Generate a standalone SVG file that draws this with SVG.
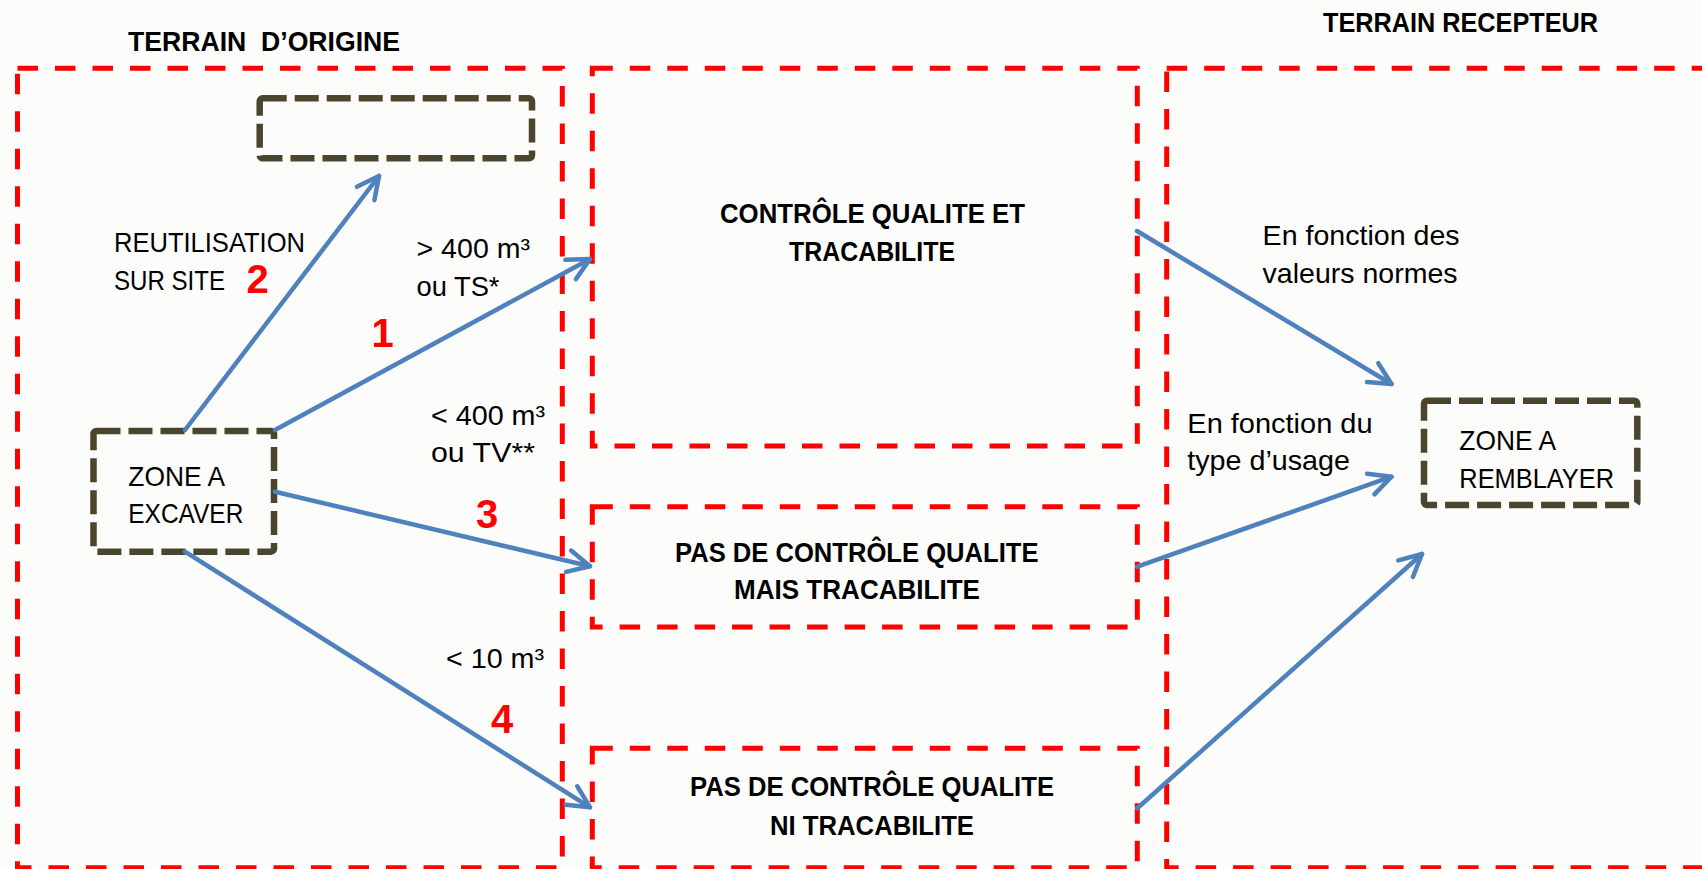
<svg xmlns="http://www.w3.org/2000/svg" width="1702" height="869" viewBox="0 0 1702 869">
<style>
.region{fill:none;stroke:#FF0000;stroke-width:5;stroke-dasharray:20.5 17}
.zone{fill:none;stroke:#4A452C;stroke-width:6.5;stroke-dasharray:24 8}
.arrow{fill:none;stroke:#4F81BD;stroke-width:4.5;stroke-linecap:round;marker-end:url(#ah)}
.t{font-family:"Liberation Sans",Arial,sans-serif;font-size:28px;fill:#000}
.b{font-weight:bold;font-size:27.5px}
.h{font-family:"Liberation Sans",Arial,sans-serif;font-weight:bold;font-size:28px;fill:#000}
.n{font-family:"Liberation Sans",Arial,sans-serif;font-weight:bold;font-size:40px;fill:#FF0000;text-anchor:middle}
</style>
<defs>
<marker id="ah" markerUnits="userSpaceOnUse" viewBox="-30 -16 36 32" refX="0" refY="0" markerWidth="36" markerHeight="32" orient="auto" overflow="visible">
<path d="M-22,-11 L0,0 L-22,11" fill="none" stroke="#4F81BD" stroke-width="4.5" stroke-linecap="round" stroke-linejoin="round"/>
</marker>
</defs>
<rect x="0" y="0" width="1702" height="869" fill="#FCFCFB"/>

<g id="titles">
<text class="h" x="128" y="50.5" textLength="272" lengthAdjust="spacingAndGlyphs" xml:space="preserve">TERRAIN  D’ORIGINE</text>
<text class="h" x="1323" y="31.5" textLength="275" lengthAdjust="spacingAndGlyphs">TERRAIN RECEPTEUR</text>
</g>

<g id="region-origine"><rect class="region" x="17.5" y="68.3" width="544.8" height="799.4"/></g>
<g id="region-recepteur"><rect class="region" x="1166.7" y="68.3" width="600" height="799.4"/></g>

<g id="box-controle">
<rect class="region" x="592.3" y="68.3" width="545" height="377.7"/>
<text class="t b" x="720" y="222.7" textLength="305" lengthAdjust="spacingAndGlyphs">CONTRÔLE QUALITE ET</text>
<text class="t b" x="789" y="260.7" textLength="166" lengthAdjust="spacingAndGlyphs">TRACABILITE</text>
</g>

<g id="box-tracabilite">
<rect class="region" x="592.3" y="506.7" width="545" height="120.3"/>
<text class="t b" x="675" y="561.7" textLength="363.5" lengthAdjust="spacingAndGlyphs">PAS DE CONTRÔLE QUALITE</text>
<text class="t b" x="734" y="599.3" textLength="246" lengthAdjust="spacingAndGlyphs">MAIS TRACABILITE</text>
</g>

<g id="box-ni">
<rect class="region" x="592.3" y="748.3" width="545" height="119.4"/>
<text class="t b" x="690" y="796" textLength="364" lengthAdjust="spacingAndGlyphs">PAS DE CONTRÔLE QUALITE</text>
<text class="t b" x="770" y="835" textLength="204" lengthAdjust="spacingAndGlyphs">NI TRACABILITE</text>
</g>

<g id="box-reutilisation"><rect class="zone" x="259.7" y="98.3" width="272.3" height="60" rx="3"/></g>

<g id="zone-excaver">
<rect class="zone" x="93.5" y="431" width="180.5" height="120.7" rx="3"/>
<text class="t" x="128.3" y="486" textLength="96.7" lengthAdjust="spacingAndGlyphs">ZONE A</text>
<text class="t" x="128.3" y="523.3" textLength="115" lengthAdjust="spacingAndGlyphs">EXCAVER</text>
</g>

<g id="zone-remblayer">
<rect class="zone" x="1424" y="400.7" width="213.3" height="104.3" rx="3"/>
<text class="t" x="1459.3" y="450" textLength="96.7" lengthAdjust="spacingAndGlyphs">ZONE A</text>
<text class="t" x="1459.3" y="488.3" textLength="154.7" lengthAdjust="spacingAndGlyphs">REMBLAYER</text>
</g>

<g id="connectors">
<line class="arrow" x1="185" y1="430" x2="379" y2="176"/>
<line class="arrow" x1="275" y1="430" x2="590" y2="259"/>
<line class="arrow" x1="275" y1="491.7" x2="590" y2="566.3"/>
<line class="arrow" x1="185" y1="551.7" x2="590" y2="807.3"/>
<line class="arrow" x1="1137" y1="231" x2="1391.5" y2="384"/>
<line class="arrow" x1="1137.3" y1="566.7" x2="1391.5" y2="476.7"/>
<line class="arrow" x1="1137.3" y1="808.3" x2="1422" y2="554"/>
</g>

<g id="labels">
<text class="t" x="114" y="252.3" textLength="191" lengthAdjust="spacingAndGlyphs">REUTILISATION</text>
<text class="t" x="114" y="290" textLength="111" lengthAdjust="spacingAndGlyphs">SUR SITE</text>
<text class="t" x="416.5" y="258.3" textLength="113.5" lengthAdjust="spacingAndGlyphs">&gt; 400 m³</text>
<text class="t" x="416.5" y="296" textLength="83" lengthAdjust="spacingAndGlyphs">ou TS*</text>
<text class="t" x="431" y="424.5" textLength="114" lengthAdjust="spacingAndGlyphs">&lt; 400 m³</text>
<text class="t" x="431" y="461.5" textLength="104" lengthAdjust="spacingAndGlyphs">ou TV**</text>
<text class="t" x="446" y="668.3" textLength="98" lengthAdjust="spacingAndGlyphs">&lt; 10 m³</text>
<text class="t" x="1262.6" y="245" textLength="197" lengthAdjust="spacingAndGlyphs">En fonction des</text>
<text class="t" x="1262.6" y="283" textLength="195" lengthAdjust="spacingAndGlyphs">valeurs normes</text>
<text class="t" x="1187.3" y="433.3" textLength="185.3" lengthAdjust="spacingAndGlyphs">En fonction du</text>
<text class="t" x="1187.3" y="470" textLength="162.7" lengthAdjust="spacingAndGlyphs">type d’usage</text>
<text class="n" x="257.5" y="293.3">2</text>
<text class="n" x="382.5" y="347">1</text>
<text class="n" x="487" y="528">3</text>
<text class="n" x="502" y="733">4</text>
</g>
</svg>
